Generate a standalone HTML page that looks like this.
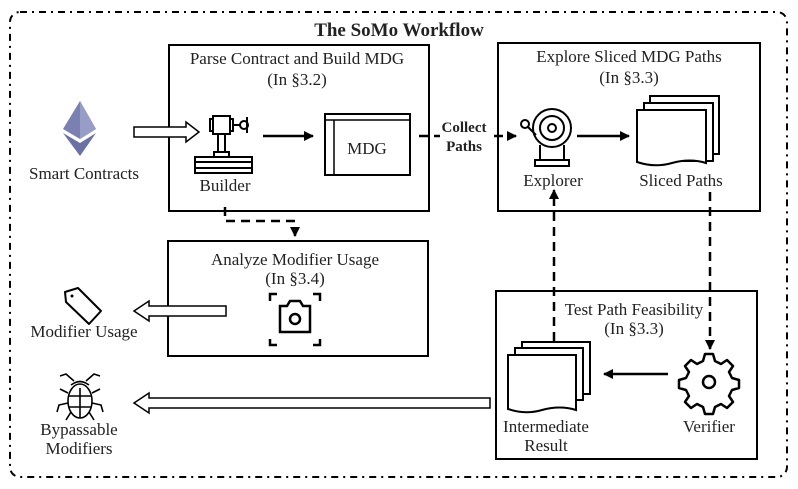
<!DOCTYPE html>
<html><head><meta charset="utf-8"><style>
html,body{margin:0;padding:0;background:#fff;}
svg{display:block;}
text{font-family:"Liberation Serif",serif;fill:#222;}
</style></head><body>
<svg width="798" height="489" viewBox="0 0 798 489" xmlns="http://www.w3.org/2000/svg">
<defs>
<marker id="ah" viewBox="0 0 10 10" refX="9" refY="5" markerWidth="4" markerHeight="4" orient="auto"><path d="M0,0L10,5L0,10z" fill="#000"/></marker>
</defs>
<rect x="10" y="12" width="777" height="465" rx="10" fill="none" stroke="#000" stroke-width="2" stroke-dasharray="7,5,2,5"/>
<text x="399" y="36" font-size="19" font-weight="bold" text-anchor="middle">The SoMo Workflow</text>

<rect x="169" y="45" width="260" height="166" fill="none" stroke="#000" stroke-width="2"/>
<text x="297" y="64" font-size="17" text-anchor="middle">Parse Contract and Build MDG</text>
<text x="297" y="85" font-size="17" text-anchor="middle">(In §3.2)</text>
<rect x="498" y="43" width="262" height="168" fill="none" stroke="#000" stroke-width="2"/>
<text x="629" y="62" font-size="17" text-anchor="middle">Explore Sliced MDG Paths</text>
<text x="629" y="83" font-size="17" text-anchor="middle">(In §3.3)</text>
<rect x="168" y="241" width="260" height="115" fill="none" stroke="#000" stroke-width="2"/>
<text x="295" y="265" font-size="17" text-anchor="middle">Analyze Modifier Usage</text>
<text x="295" y="284" font-size="17" text-anchor="middle">(In §3.4)</text>
<rect x="496" y="291" width="261" height="168" fill="none" stroke="#000" stroke-width="2"/>
<text x="634" y="315" font-size="17" text-anchor="middle">Test Path Feasibility</text>
<text x="634" y="334" font-size="17" text-anchor="middle">(In §3.3)</text>

<polygon points="80,101 63,129 80,139 96,129" fill="#7a80b0"/>
<polygon points="80,101 80,139 96,129" fill="#989dc8"/>
<polygon points="63,133 80,156 96,133 80,143" fill="#6a71a5"/>
<text x="84" y="179" font-size="17" text-anchor="middle">Smart Contracts</text>
<path d="M134,127H186V122L199,132L186,142V137H134Z" fill="#fff" stroke="#000" stroke-width="1.5"/>

<g fill="none" stroke="#000" stroke-width="2">
<rect x="213" y="116" width="17" height="18"/><rect x="210" y="119" width="3" height="12"/><rect x="230" y="119" width="3" height="12"/>
<line x1="233" y1="125" x2="240" y2="125"/><circle cx="244" cy="125" r="4"/><line x1="247" y1="117" x2="247" y2="133"/>
<rect x="218" y="134" width="7" height="18"/><rect x="214" y="152" width="15" height="5"/>
<rect x="195" y="157" width="57" height="16"/><line x1="195" y1="162" x2="252" y2="162"/><line x1="195" y1="168" x2="252" y2="168"/>
</g>
<text x="225" y="191" font-size="17" text-anchor="middle">Builder</text>
<line x1="263" y1="136" x2="313" y2="136" stroke="#000" stroke-width="2.5" marker-end="url(#ah)"/>
<rect x="325" y="114" width="85" height="61" fill="none" stroke="#000" stroke-width="2"/>
<line x1="325" y1="120" x2="410" y2="120" stroke="#000" stroke-width="1.5"/>
<line x1="334" y1="120" x2="334" y2="175" stroke="#000" stroke-width="1.5"/>
<text x="367" y="154" font-size="17" text-anchor="middle">MDG</text>

<line x1="419" y1="136" x2="516" y2="136" stroke="#000" stroke-width="2.5" stroke-dasharray="9,6" marker-end="url(#ah)"/>
<rect x="440" y="118" width="48" height="36" fill="#fff"/>
<text x="464" y="132" font-size="15" font-weight="bold" text-anchor="middle">Collect</text>
<text x="464" y="151" font-size="15" font-weight="bold" text-anchor="middle">Paths</text>

<g fill="none" stroke="#000" stroke-width="2">
<circle cx="552" cy="128" r="19"/><circle cx="552" cy="128" r="12"/><circle cx="552" cy="128" r="4"/>
<circle cx="525" cy="124" r="4"/><path d="M528,127L536,135"/>
<path d="M540,145V160M564,145V160"/><rect x="535" y="160" width="34" height="6"/>
</g>
<text x="553" y="186" font-size="17" text-anchor="middle">Explorer</text>
<line x1="577" y1="136" x2="629" y2="136" stroke="#000" stroke-width="2.5" marker-end="url(#ah)"/>
<g fill="#fff" stroke="#000" stroke-width="2">
<rect x="650" y="96" width="69" height="58"/>
<rect x="644" y="103" width="69" height="58"/>
<path d="M637,110H706V163Q690,158 672,163Q655,168 637,162Z"/>
</g>
<text x="681" y="186" font-size="17" text-anchor="middle">Sliced Paths</text>

<path d="M225,207V221H295V236" fill="none" stroke="#000" stroke-width="2.5" stroke-dasharray="9,6" marker-end="url(#ah)"/>

<g fill="none" stroke="#000" stroke-width="2.5">
<path d="M270,301V294H277M313,294H320V301M270,339V345H277M313,345H320V339"/>
<path d="M280,306H287L290,301H300L303,306H310V332H280Z"/><circle cx="295" cy="319" r="5"/>
</g>
<path d="M226,306H149V301L134,311L149,321V316H226Z" fill="#fff" stroke="#000" stroke-width="1.5"/>
<path d="M65,292L78,288L101,311L89,324L66,302Z" fill="none" stroke="#000" stroke-width="2" stroke-linejoin="round"/>
<circle cx="72" cy="296" r="1.5" fill="#000"/>
<text x="84" y="337" font-size="17" text-anchor="middle">Modifier Usage</text>

<g fill="none" stroke="#000" stroke-width="1.6">
<ellipse cx="80" cy="401" rx="12" ry="17"/><path d="M71,385Q80,378 89,385"/>
<line x1="80" y1="388" x2="80" y2="418"/><path d="M68,396H92M69,407H91"/>
<path d="M74,381L66,374L60,376M86,381L94,374L100,376"/>
<path d="M68,393L60,389M92,393L100,389M68,403L59,405L57,412M92,403L101,405L103,412M71,412L66,420M89,412L94,420"/>
</g>
<text x="79" y="435" font-size="17" text-anchor="middle">Bypassable</text>
<text x="79" y="454" font-size="17" text-anchor="middle">Modifiers</text>
<path d="M490,398H149V393L134,403L149,413V408H490Z" fill="#fff" stroke="#000" stroke-width="1.5"/>

<g fill="#fff" stroke="#000" stroke-width="2">
<rect x="522" y="342" width="68" height="52"/>
<rect x="515" y="348" width="68" height="52"/>
<path d="M508,355H576V410Q560,405 542,410Q525,415 508,409Z"/>
</g>
<text x="546" y="432" font-size="17" text-anchor="middle">Intermediate</text>
<text x="546" y="451" font-size="17" text-anchor="middle">Result</text>
<g fill="none" stroke="#000" stroke-width="2.5" stroke-linejoin="round">
<path d="M705,354h8l2,7 6,3 6,-4 6,6 -4,6 3,6 7,2v8l-7,2 -3,6 4,6 -6,6 -6,-4 -6,3 -2,7h-8l-2,-7 -6,-3 -6,4 -6,-6 4,-6 -3,-6 -7,-2v-8l7,-2 3,-6 -4,-6 6,-6 6,4 6,-3z"/>
<circle cx="709" cy="382" r="6"/>
</g>
<text x="709" y="432" font-size="17" text-anchor="middle">Verifier</text>
<line x1="668" y1="374" x2="604" y2="374" stroke="#000" stroke-width="2.5" marker-end="url(#ah)"/>

<line x1="554" y1="341" x2="554" y2="190" stroke="#000" stroke-width="2.5" stroke-dasharray="9,6" marker-end="url(#ah)"/>
<line x1="710" y1="192" x2="710" y2="349" stroke="#000" stroke-width="2.5" stroke-dasharray="9,6" marker-end="url(#ah)"/>
</svg>
</body></html>
